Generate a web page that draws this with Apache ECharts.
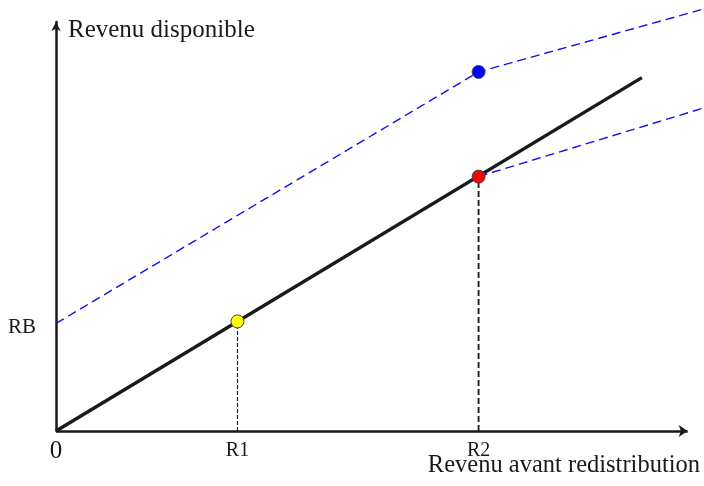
<!DOCTYPE html>
<html>
<head>
<meta charset="utf-8">
<script src="https://cdn.jsdelivr.net/npm/echarts@6/dist/echarts.min.js"></script>
<style>html,body{margin:0;padding:0;background:#fff}#c{width:704px;height:486px}</style>
</head>
<body>
<div id="c"></div>
<script>
// Values (abstract units: x axis arrow runs 0..100, y axis 0..100)
const xAxisEnd = 100.6;
const xTickValues = [0, 28.9, 67.3];
const xTickLabels = ['0', 'R1', 'R2'];
const yTickValues = [26.3];
const yTickLabels = ['RB'];
const sansRedistribution = [[0, 0], [93.3, 86.4]];
const avecRB = [[0, 26.3], [67.3, 87.8], [103.2, 103.2]];
const branchR2 = [[67.3, 62.2], [103.2, 79.0]];
const guideR1 = [[28.9, 0], [28.9, 26.8]];
const guideR2 = [[67.3, 0], [67.3, 62.2]];
const pointR1 = [28.9, 26.8];
const pointR2 = [67.3, 62.2];
const pointRB = [67.3, 87.8];
const pointColors = ['#ffff00', '#ff0000', '#0000ff'];

const FONT = '"Liberation Serif", "DejaVu Serif", serif';
const chart = echarts.init(document.getElementById('c'), null, {renderer: 'canvas'});
const axisLineStyle = {color: '#1a1a1a', width: 2.5};

chart.setOption({
  animation: false,
  backgroundColor: '#fff',
  grid: {left: 56, top: 22, right: 0, bottom: 55, containLabel: false, outerBoundsMode: 'none'},
  xAxis: {
    type: 'value', min: 0, max: 103.2,
    name: 'Revenu avant redistribution',
    nameLocation: 'end', nameGap: -4, nameMoveOverlap: false,
    nameTextStyle: {fontFamily: FONT, fontSize: 24.5, color: '#1a1a1a', align: 'right', verticalAlign: 'top', padding: [22, 0, 0, 0]},
    axisLine: {show: false},
    axisTick: {show: false},
    splitLine: {show: false},
    axisLabel: {
      customValues: xTickValues,
      margin: 8,
      fontFamily: FONT, color: '#1a1a1a',
      formatter: function (v) {
        const i = xTickValues.indexOf(v);
        const t = i >= 0 ? xTickLabels[i] : '';
        return i === 0 ? '{z|' + t + '}' : '{r|' + t + '}';
      },
      rich: {
        z: {fontFamily: FONT, fontSize: 25, color: '#1a1a1a'},
        r: {fontFamily: FONT, fontSize: 20, color: '#1a1a1a', padding: [2, 0, 0, 0]}
      }
    }
  },
  yAxis: {
    type: 'value', min: 0, max: 100,
    name: 'Revenu disponible',
    nameLocation: 'end', nameGap: -8, nameMoveOverlap: false,
    nameTextStyle: {fontFamily: FONT, fontSize: 25, color: '#1a1a1a', align: 'left', verticalAlign: 'middle', padding: [0, 0, 0, 12]},
    axisLine: {show: true, lineStyle: axisLineStyle, symbol: ['none', 'arrow'], symbolSize: [7, 9]},
    axisTick: {show: false},
    splitLine: {show: false},
    axisLabel: {
      customValues: yTickValues,
      margin: 20,
      fontFamily: FONT, color: '#1a1a1a',
      formatter: function (v) {
        const i = yTickValues.indexOf(v);
        return i >= 0 ? '{a|' + yTickLabels[i] + '}' : '';
      },
      rich: {
        a: {fontFamily: FONT, fontSize: 21, color: '#1a1a1a', padding: [9, 0, 0, 0]}
      }
    }
  },
  series: [
    {type: 'line', data: [], silent: true, z: 4,
     markLine: {
       silent: true, animation: false,
       symbol: ['none', 'arrow'], symbolSize: 9,
       label: {show: false},
       lineStyle: {color: '#1a1a1a', width: 2.5, type: 'solid'},
       emphasis: {disabled: true},
       data: [[{coord: [0, 0]}, {coord: [xAxisEnd, 0]}]]
     }},
    {type: 'line', data: avecRB, clip: false, symbol: 'none', silent: true,
     lineStyle: {color: '#1010ee', width: 1.4, type: [9, 5]}, z: 2},
    {type: 'line', data: branchR2, clip: false, symbol: 'none', silent: true,
     lineStyle: {color: '#1010ee', width: 1.4, type: [9, 5]}, z: 2},
    {type: 'line', data: guideR1, symbol: 'none', silent: true,
     lineStyle: {color: '#222', width: 1.2, type: [4, 2]}, z: 2},
    {type: 'line', data: guideR2, symbol: 'none', silent: true,
     lineStyle: {color: '#222', width: 1.9, type: [6, 3]}, z: 2},
    {type: 'line', data: sansRedistribution, clip: false, symbol: 'none', silent: true,
     lineStyle: {color: '#1a1a1a', width: 3.5}, z: 3},
    {type: 'scatter', clip: false, symbol: 'circle', symbolSize: 13, z: 5,
     itemStyle: {borderColor: '#444', borderWidth: 1, opacity: 1},
     data: [
       {value: pointR1, itemStyle: {color: pointColors[0]}},
       {value: pointR2, itemStyle: {color: pointColors[1]}},
       {value: pointRB, itemStyle: {color: pointColors[2]}}
     ]}
  ]
});
</script>
</body>
</html>
